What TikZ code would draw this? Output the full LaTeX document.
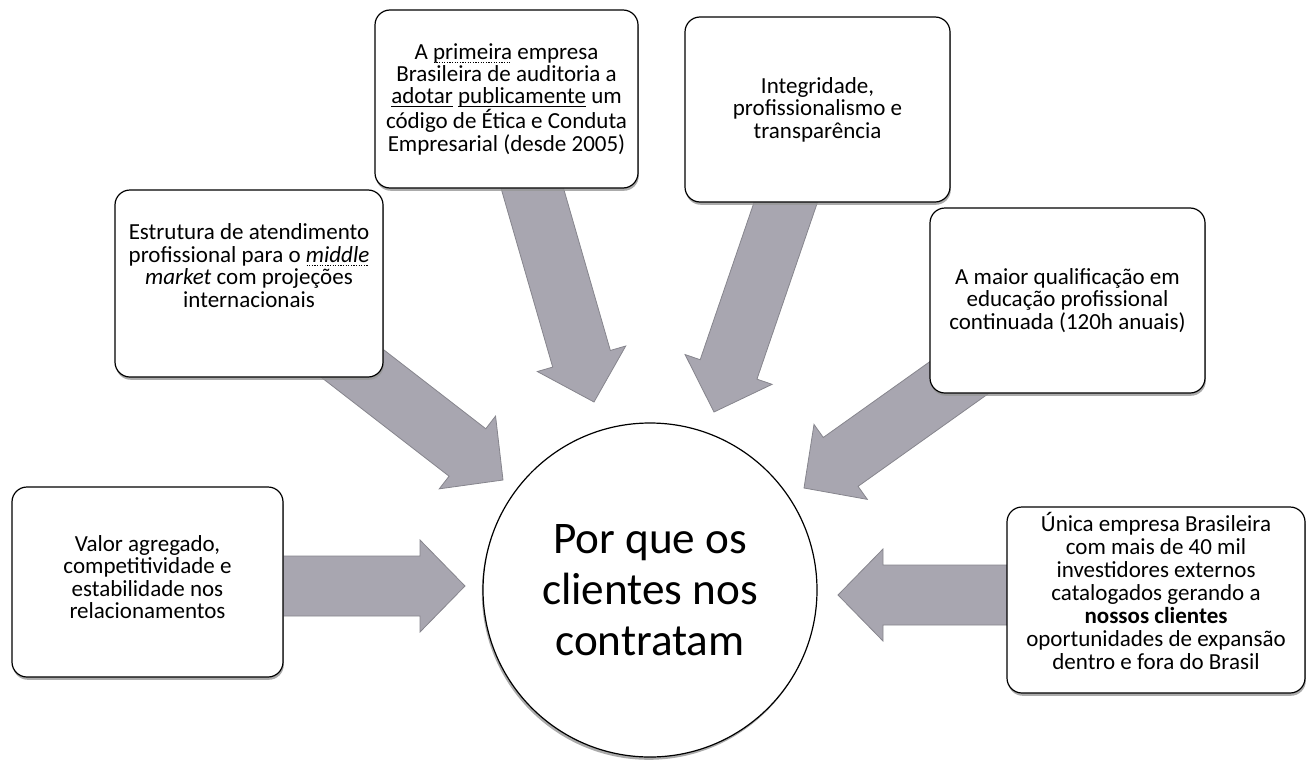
\documentclass[tikz,border=0pt]{standalone}
\usepackage{fontspec}
\setmainfont{Carlito}
\usetikzlibrary{calc,shadows}
\pgfdeclarelayer{background}
\pgfsetlayers{background,main}
\definecolor{arrowgray}{RGB}{168,166,176}
\definecolor{shadowgray}{RGB}{150,150,150}
\newsavebox{\ulword}
\newlength{\ulwd}
\newcommand{\dotul}[1]{\sbox{\ulword}{#1}\setlength{\ulwd}{\wd\ulword}%
  \makebox[0pt][l]{\raisebox{-1.7pt}[0pt][0pt]{\hbox to \ulwd{\leaders\hbox to 1.3pt{\hss\rule{0.6pt}{0.45pt}\hss}\hfill}}}\usebox{\ulword}}
\newcommand{\solidul}[1]{\sbox{\ulword}{#1}\setlength{\ulwd}{\wd\ulword}%
  \makebox[0pt][l]{\raisebox{-1.7pt}[0pt][0pt]{\rule{\ulwd}{0.5pt}}}\usebox{\ulword}}
\tikzset{
  box/.style={draw=black, line width=0.6pt, fill=white, rounded corners=7.5pt,
    align=center, inner sep=2pt,
    font=\fontsize{11.5}{11.2}\selectfont,
    drop shadow={shadow xshift=0.4pt, shadow yshift=-1.4pt, fill=shadowgray, opacity=0.8}},
  lift/.style={text depth=#1},
  hub/.style={draw=black, line width=0.6pt, fill=white, circle, minimum size=167pt,
    align=center, inner sep=0pt, font=\fontsize{22.6}{25.5}\selectfont,
    drop shadow={shadow xshift=-0.6pt, shadow yshift=-1.4pt, fill=shadowgray, opacity=0.8}},
  blockarrow/.style={fill=arrowgray, draw=arrowgray!80!black, line width=0.4pt, line join=miter}
}
\newcommand{\blockarr}[2]{%
  \coordinate (hb) at ($(#2)!22.5pt!(#1)$);
  \path[blockarrow] ($(#1)!15pt!90:(#2)$) -- ($(hb)!15pt!90:(#2)$) -- ($(hb)!23pt!90:(#2)$)
    -- (#2) -- ($(hb)!23pt!-90:(#2)$) -- ($(hb)!15pt!-90:(#2)$) -- ($(#1)!15pt!-90:(#2)$) -- cycle;
}
\begin{document}
\begin{tikzpicture}[x=0.5pt,y=-0.5pt]
\useasboundingbox (0,0) rectangle (1311,760);

\node[hub] (c) at (650,590) {Por que os\\clientes nos\\contratam};

\node[box, minimum width=131.5pt, minimum height=89pt] (b1) at (506.5,99)
  {A \dotul{primeira} empresa\\Brasileira de auditoria a\\\solidul{adotar} \solidul{publicamente} um\\código de Ética e Conduta\\Empresarial (desde 2005)};
\node[box, minimum width=132.5pt, minimum height=92.5pt] (b2) at (817.5,109.5)
  {Integridade,\\profissionalismo e\\transparência};
\node[box, lift=18pt, minimum width=134pt, minimum height=93.5pt] (b3) at (249,283.5)
  {Estrutura de atendimento\\profissional para o \dotul{\textit{middle}}\\\textit{market} com projeções\\internacionais};
\node[box, minimum width=137.5pt, minimum height=92.5pt] (b4) at (1067.5,300.5)
  {A maior qualificação em\\educação profissional\\continuada (120h anuais)};
\node[box, lift=5pt, minimum width=135.5pt, minimum height=95pt] (b5) at (147.5,582)
  {Valor agregado,\\competitividade e\\estabilidade nos\\relacionamentos};
\node[box, lift=9pt, minimum width=149pt, minimum height=93pt, font=\fontsize{11.5}{11.5}\selectfont] (b6) at (1156,600)
  {Única empresa Brasileira\\com mais de 40 mil\\investidores externos\\catalogados gerando a\\\textbf{nossos clientes}\\oportunidades de expansão\\dentro e fora do Brasil};

\coordinate (t1) at (594,402);
\coordinate (t2) at (714,412);
\coordinate (t3) at (503,480);
\coordinate (t4) at (804,488);
\coordinate (t5) at (465,586);
\coordinate (t6) at (838,595);

\begin{pgfonlayer}{background}
  \blockarr{b1.center}{t1}
  \blockarr{b2.center}{t2}
  \blockarr{b3.center}{t3}
  \blockarr{b4.center}{t4}
  \blockarr{b5.center |- t5}{t5}
  \blockarr{b6.center |- t6}{t6}
\end{pgfonlayer}
\end{tikzpicture}
\end{document}
